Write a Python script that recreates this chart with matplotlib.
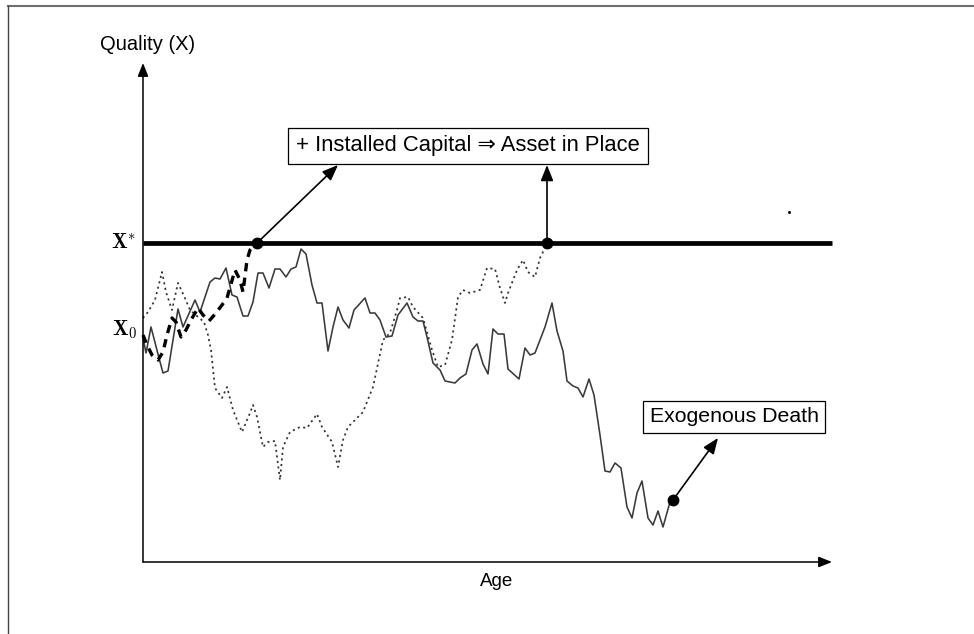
import matplotlib
matplotlib.use("Agg")
import matplotlib.pyplot as plt
from matplotlib.lines import Line2D

plt.rcParams['mathtext.fontset'] = 'cm'
plt.rcParams['font.family'] = ['Liberation Sans', 'DejaVu Sans']

# ---- data (age, quality); threshold X* = 319, X0 ~ 232 ----
x_star = 319
x0_level = 232
age_max = 689
q_axis_top = 499

solid_age = [0, 3, 8, 16, 20, 25, 35, 40, 52, 57, 67, 72, 77, 83, 89, 94, 100, 105, 110, 115,
             120, 126, 132, 137, 143, 148, 153, 158, 163, 169, 174, 179, 185, 190, 195, 200,
             206, 211, 222, 227, 232, 237, 243, 249, 255, 264, 270, 275, 280, 284, 290, 297,
             302, 312, 317, 323, 329, 334, 340, 345, 350, 355, 361, 365, 376, 382, 387, 392,
             402, 409, 414, 420, 424, 430, 435, 440, 446, 451, 457, 462, 467, 472, 478, 484,
             489, 494, 499, 505, 510, 515, 520, 527, 530]
solid_q = [224, 209, 235, 204, 189, 191, 253, 235, 262, 250, 280, 284, 283, 294, 267, 265, 246,
           246, 260, 289, 289, 274, 293, 293, 285, 293, 295, 313, 308, 277, 259, 259, 211, 235,
           255, 242, 234, 252, 264, 249, 249, 242, 225, 226, 247, 259, 245, 241, 241, 225, 199,
           192, 181, 179, 184, 188, 212, 218, 198, 188, 233, 228, 228, 193, 183, 214, 207, 209,
           235, 259, 231, 211, 181, 176, 174, 165, 183, 167, 127, 91, 90, 99, 94, 55, 44, 69,
           81, 44, 37, 51, 35, 60, 62]

dashed_age = [0, 4, 9, 15, 20, 24, 29, 33, 38, 43, 48, 55, 60, 66, 73, 79, 84, 88, 92, 97,
              100, 104, 107, 114]
dashed_q = [227, 217, 207, 202, 210, 227, 244, 240, 225, 232, 242, 254, 247, 241, 249, 257,
            264, 278, 292, 282, 270, 302, 312, 319]

dotted_age = [0, 5, 12, 19, 23, 29, 35, 41, 47, 54, 61, 65, 68, 72, 79, 84, 90, 99, 107, 110,
              114, 120, 125, 132, 137, 140, 147, 157, 164, 174, 179, 189, 195, 200, 205, 220,
              230, 240, 247, 254, 257, 265, 270, 280, 289, 295, 302, 309, 315, 320, 327, 337,
              344, 352, 357, 362, 365, 374, 380, 385, 392, 397, 400, 404]
dotted_q = [244, 250, 262, 290, 270, 252, 279, 266, 252, 246, 240, 227, 212, 174, 164, 175, 152,
            130, 149, 157, 145, 115, 120, 121, 82, 115, 130, 135, 134, 148, 135, 120, 95, 122,
            135, 150, 175, 222, 229, 252, 264, 265, 255, 244, 212, 195, 197, 222, 265, 272, 269,
            272, 294, 293, 274, 259, 269, 292, 302, 290, 285, 304, 310, 319]

stray_point = (646, 350)

label_invest = "+ Installed Capital \u21d2 Asset in Place"
label_death = "Exogenous Death"
label_y = "Quality (X)"
label_x = "Age"
invest_box_pos = (325, 416)
death_box_pos = (591, 145)

# ---- figure ----
fig = plt.figure(figsize=(9.74, 6.34), dpi=100)
ax = fig.add_axes([0, 0, 1, 1])
ax.set_xlim(-143, 831)
ax.set_ylim(-72, 562)
ax.axis('off')

# outer frame (top and left edges)
fig.add_artist(Line2D([8 / 974, 1], [1 - 5.5 / 634, 1 - 5.5 / 634], transform=fig.transFigure,
                      color='#6e6e6e', lw=1.5))
fig.add_artist(Line2D([8 / 974, 8 / 974], [0, 1 - 5.5 / 634], transform=fig.transFigure,
                      color='#444444', lw=1.0))

# axes arrows
arrow_kw = dict(arrowstyle='-|>,head_length=0.8,head_width=0.32', color='black', lw=1.1,
                shrinkA=0, shrinkB=0)
ax.annotate('', xy=(age_max, 0), xytext=(0, 0), arrowprops=arrow_kw)
ax.annotate('', xy=(0, q_axis_top), xytext=(0, 0), arrowprops=arrow_kw)

# threshold line
ax.plot([0, age_max], [x_star, x_star], color='black', lw=3.4, solid_capstyle='butt')

# paths
ax.plot(solid_age, solid_q, color='#3a3a3a', lw=1.15)
ax.plot(dotted_age, dotted_q, color='#333333', lw=1.25, linestyle=(0, (1.2, 2.0)))
ax.plot(dashed_age, dashed_q, color='black', lw=2.4, linestyle=(0, (2.5, 1.9)))

# event dots
ax.plot([dashed_age[-1], dotted_age[-1], solid_age[-1]],
        [dashed_q[-1], dotted_q[-1], solid_q[-1]], 'o', color='black', ms=7.5)
ax.plot([stray_point[0]], [stray_point[1]], 's', color='black', ms=1.0)

# labels
ax.text(-7, x_star, r'$\mathbf{X}^{*}$', ha='right', va='center', fontsize=15)
ax.text(-6, x0_level, r'$\mathbf{X}_{0}$', ha='right', va='center', fontsize=15)
ax.text(5, 518, label_y, ha='center', va='center', fontsize=14.5)
ax.text(354, -19, label_x, ha='center', va='center', fontsize=13.5)

# annotations
box1 = dict(boxstyle='square,pad=0.36', fc='white', ec='black', lw=0.9)
box2 = dict(boxstyle='square,pad=0.3', fc='white', ec='black', lw=0.9)
ax.text(*invest_box_pos, label_invest, ha='center', va='center', fontsize=15.8, bbox=box1)
ax.text(*death_box_pos, label_death, ha='center', va='center', fontsize=15.3, bbox=box2)

ann_kw = dict(arrowstyle='-|>,head_length=0.95,head_width=0.38', color='black', lw=1.2,
              shrinkA=0, shrinkB=0)
ax.annotate('', xy=(195, 397), xytext=(dashed_age[-1], dashed_q[-1]), arrowprops=ann_kw)
ax.annotate('', xy=(dotted_age[-1], 397), xytext=(dotted_age[-1], dotted_q[-1]), arrowprops=ann_kw)
ax.annotate('', xy=(575, 124), xytext=(solid_age[-1], solid_q[-1]), arrowprops=ann_kw)

fig.savefig('out.png', dpi=100)
